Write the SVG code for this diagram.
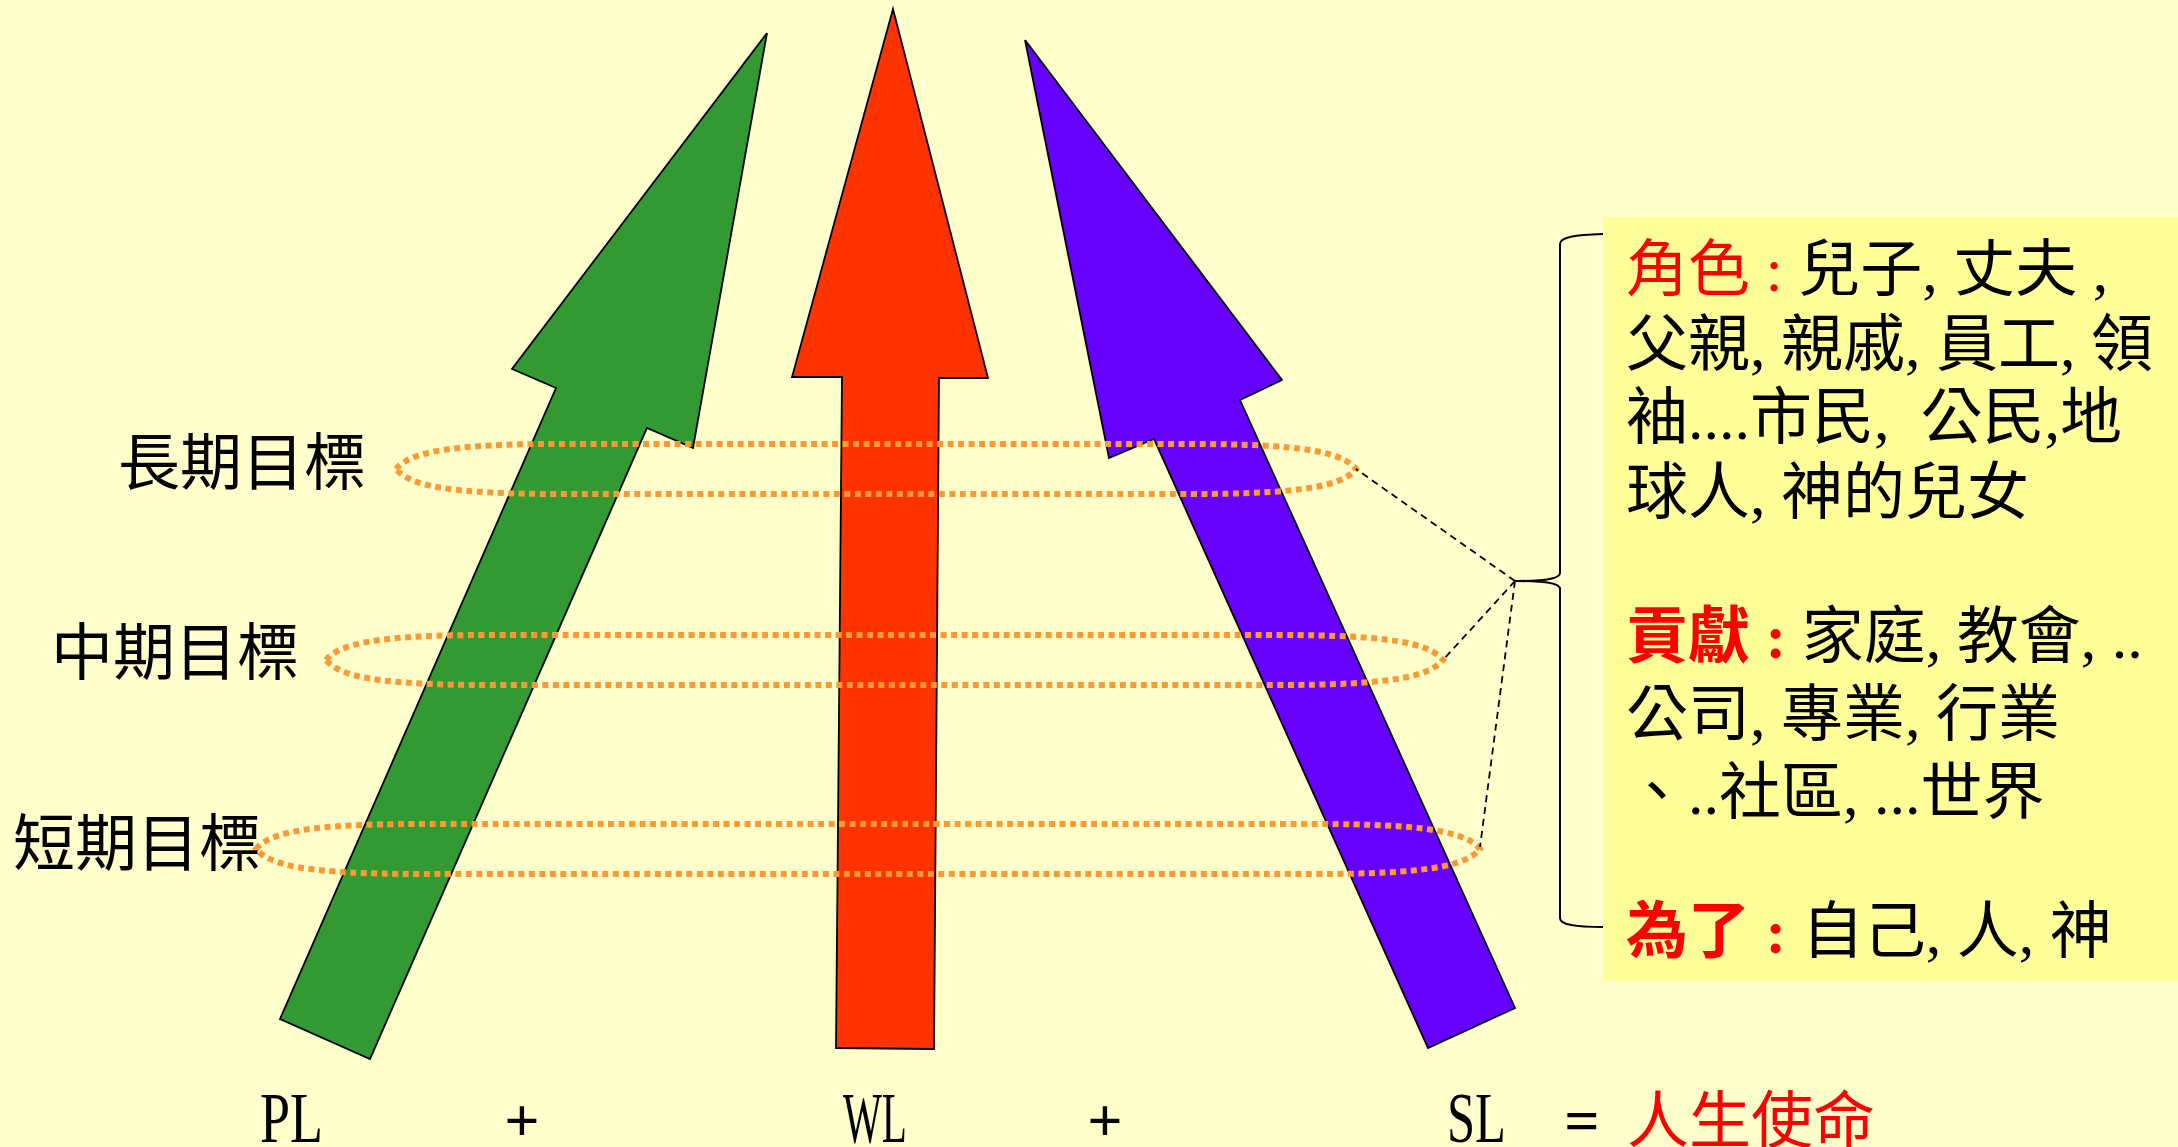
<svg xmlns="http://www.w3.org/2000/svg" width="2178" height="1147" viewBox="0 0 2178 1147">
<style>
.arrow{stroke:#000;stroke-width:1.8;stroke-linejoin:miter}
.goal{fill:none;stroke:#FF9933;stroke-width:6;stroke-dasharray:6 4.5}
.conn{fill:none;stroke:#000;stroke-width:1.8;stroke-dasharray:7 5}
.lbl{font-family:"Liberation Serif","Noto Sans CJK TC",serif;font-size:62px;fill:#000}
.box{font-family:"Liberation Serif","Noto Sans CJK TC",serif;font-size:62px;fill:#000;white-space:pre}
.eq{font-family:"Liberation Serif","Noto Sans CJK TC",serif;fill:#000}
.red{fill:#FF0000}
</style>
<rect x="0" y="0" width="2178" height="1147" fill="#FFFFCC"/>

<g id="arrow-PL">
<polygon class="arrow" fill="#339933" points="767,33 693,448 647,428 370,1059 280,1019 556,388 512,369"/>
</g>
<g id="arrow-WL">
<polygon class="arrow" fill="#FF3300" points="893,9 988,378 939,378 934,1049 836,1048 842,377 792,377"/>
</g>
<g id="arrow-SL">
<polygon class="arrow" fill="#6600FF" points="1025,40 1282,380 1240,400 1515,1008 1428,1048 1154,439 1109,458"/>
</g>

<g id="goal-long">
<path class="goal" d="M396,469 C410,452 450,444 560,444 L1192,444 C1302,444 1342,452 1356,469 C1342,486 1302,494 1192,494 L560,494 C450,494 410,486 396,469 Z"/>
<text class="lbl" x="118" y="485">長期目標</text>
</g>
<g id="goal-mid">
<path class="goal" d="M326,660 C340,643 380,635 490,635 L1279,635 C1389,635 1429,643 1443,660 C1429,677 1389,685 1279,685 L490,685 C380,685 340,677 326,660 Z"/>
<text class="lbl" x="51" y="675">中期目標</text>
</g>
<g id="goal-short">
<path class="goal" d="M256,849 C270,832 310,824 420,824 L1316,824 C1426,824 1466,832 1480,849 C1466,866 1426,874 1316,874 L420,874 C310,874 270,866 256,849 Z"/>
<text class="lbl" x="13" y="866">短期目標</text>
</g>

<g id="brace">
<path fill="none" stroke="#000" stroke-width="2" d="M1603,234 C1575,235 1560,237 1560,244 L1560,573 C1560,579 1545,581 1515,581 C1545,581 1560,583 1560,589 L1560,918 C1560,925 1575,927 1603,927"/>
</g>

<g id="connectors">
<line class="conn" x1="1515" y1="581" x2="1356" y2="469"/>
<line class="conn" x1="1515" y1="581" x2="1443" y2="660"/>
<line class="conn" x1="1515" y1="581" x2="1480" y2="847"/>
</g>

<g id="textbox">
<rect x="1603" y="217" width="575" height="764" fill="#FFFF99"/>
<text class="box" x="1626" y="291"><tspan class="red">角色 :</tspan> 兒子, 丈夫 ,</text>
<text class="box" x="1626" y="366">父親, 親戚, 員工, 領</text>
<text class="box" x="1626" y="439">袖....市民,  公民,地</text>
<text class="box" x="1626" y="514">球人, 神的兒女</text>
<text class="box" x="1626" y="658"><tspan class="red" font-weight="bold">貢獻 :</tspan> 家庭, 教會, ..</text>
<text class="box" x="1626" y="736">公司, 專業, 行業</text>
<text class="box" x="1626" y="814">、..社區, ...世界</text>
<text class="box" x="1626" y="953"><tspan class="red" font-weight="bold">為了 :</tspan> 自己, 人, 神</text>
</g>

<g id="equation">
<text class="eq" x="260" y="1142" font-size="72" textLength="63" lengthAdjust="spacingAndGlyphs">PL</text>
<text class="eq" x="522" y="1141" font-size="62" font-weight="bold" text-anchor="middle">+</text>
<text class="eq" x="843" y="1142" font-size="72" textLength="64" lengthAdjust="spacingAndGlyphs">WL</text>
<text class="eq" x="1105" y="1141" font-size="62" font-weight="bold" text-anchor="middle">+</text>
<text class="eq" x="1447" y="1142" font-size="72" textLength="59" lengthAdjust="spacingAndGlyphs">SL</text>
<text class="eq" x="1582" y="1141" font-size="62" font-weight="bold" text-anchor="middle">=</text>
<text class="eq red" x="1627" y="1143" font-size="62">人生使命</text>
</g>
</svg>
